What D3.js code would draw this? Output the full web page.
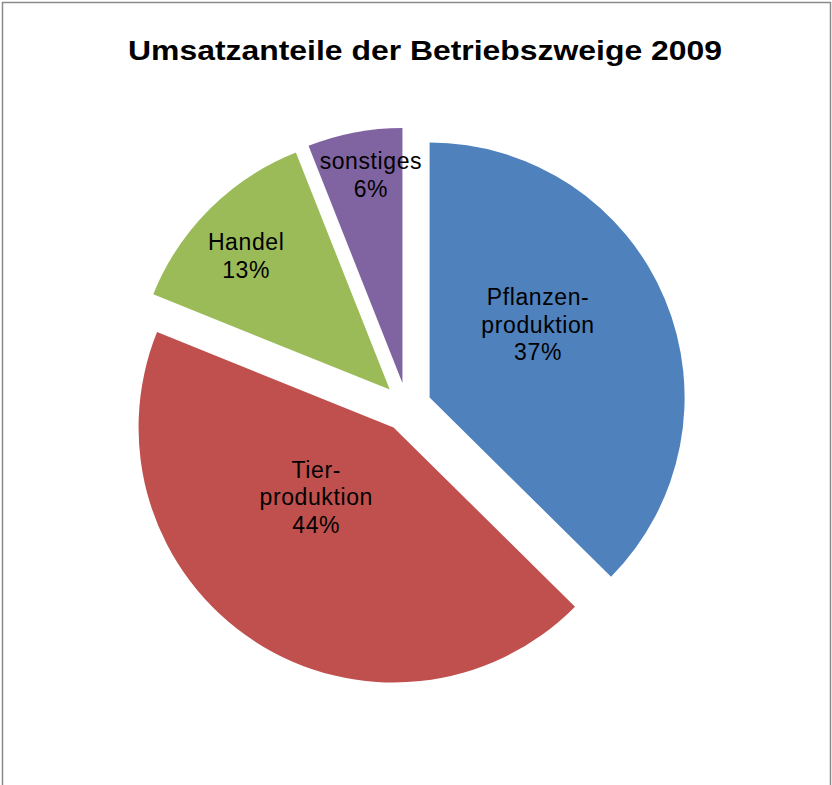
<!DOCTYPE html>
<html>
<head>
<meta charset="utf-8">
<script src="https://cdn.jsdelivr.net/npm/d3@7"></script>
<style>
  html, body { margin: 0; padding: 0; background: #fff; }
  svg { display: block; }
</style>
</head>
<body>
<div id="chart"></div>
<script>
// ─── DATA ───
const TITLE = 'Umsatzanteile der Betriebszweige 2009';
const categories = [['Pflanzen-', 'produktion'], ['Tier-', 'produktion'], ['Handel'], ['sonstiges']];
const shares = [37.4, 43.7, 12.9, 6.0];
const colors = ['#4F81BD', '#C0504D', '#9BBB59', '#8064A2'];

// label placement (Excel "best fit"): angle in degrees from 12 o'clock, distance as share of radius,
// measured from the exploded slice tip
const LABEL_LAYOUT = [
  { angle: 56, dist: 0.513 },
  { angle: 228, dist: 0.408 },
  { angle: 313, dist: 0.77 },
  { angle: 351.4, dist: 0.826 }
];

const WIDTH = 832;
const HEIGHT = 785;
const CX = 407;
const CY = 407;
const RADIUS = 255;
const EXPLODE = 24.5;
const LINE_H = 27.4;

const svg = d3.select('#chart').append('svg')
  .attr('width', WIDTH).attr('height', HEIGHT);

// chart area border
svg.append('rect')
  .attr('x', 2.5).attr('y', 2.5)
  .attr('width', 828).attr('height', HEIGHT + 20)
  .attr('fill', '#fff')
  .attr('stroke', '#8a8a8a')
  .attr('stroke-width', 1.5);

svg.append('text')
  .attr('x', 425).attr('y', 60)
  .attr('text-anchor', 'middle')
  .attr('font-family', '"Liberation Sans", Arial, sans-serif')
  .attr('font-weight', 'bold')
  .attr('font-size', 27)
  .attr('textLength', 594)
  .attr('lengthAdjust', 'spacingAndGlyphs')
  .attr('fill', '#000')
  .text(TITLE);

const total = d3.sum(shares);
const pie = d3.pie().sort(null).value(d => d);
const arc = d3.arc().innerRadius(0).outerRadius(RADIUS);
const arcs = pie(shares);

const g = svg.append('g').attr('transform', `translate(${CX},${CY})`);

const slices = g.selectAll('g.slice')
  .data(arcs)
  .enter().append('g')
  .attr('class', 'slice')
  .attr('transform', d => {
    const mid = (d.startAngle + d.endAngle) / 2;
    return `translate(${Math.sin(mid) * EXPLODE},${-Math.cos(mid) * EXPLODE})`;
  });

slices.append('path')
  .attr('d', arc)
  .attr('fill', (d, i) => colors[i]);

slices.each(function (d, i) {
  const lay = LABEL_LAYOUT[i];
  const a = lay.angle * Math.PI / 180;
  const lx = Math.sin(a) * lay.dist * RADIUS;
  const ly = -Math.cos(a) * lay.dist * RADIUS;
  const lines = categories[i].concat([Math.round(d.value / total * 100) + '%']);
  const n = lines.length;
  const t = d3.select(this).append('text')
    .attr('text-anchor', 'middle')
    .attr('font-family', '"Liberation Sans", Arial, sans-serif')
    .attr('font-size', 23)
    .attr('letter-spacing', 0.6)
    .attr('fill', '#000');
  lines.forEach((s, k) => {
    t.append('tspan')
      .attr('x', lx)
      .attr('y', ly + (k - (n - 1) / 2) * LINE_H + 8.3)
      .text(s);
  });
});
</script>
</body>
</html>
